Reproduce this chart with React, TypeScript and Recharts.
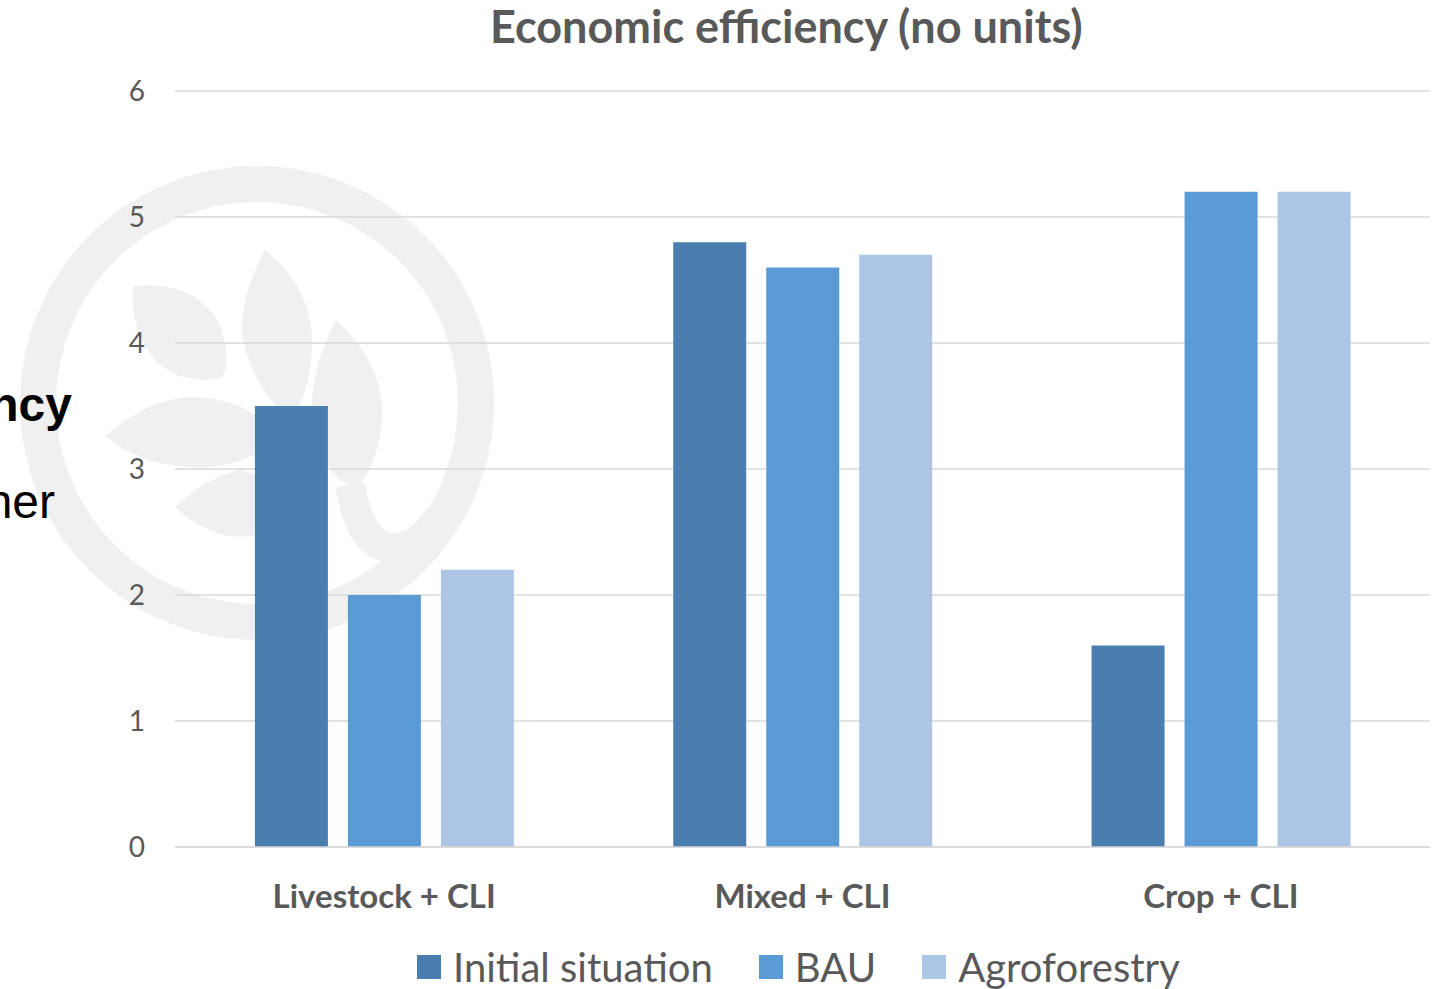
import React from 'react';
import { BarChart, Bar, XAxis, YAxis, CartesianGrid, Legend } from 'recharts';

const categories = ['Livestock + CLI', 'Mixed + CLI', 'Crop + CLI'];
const initialSituation = [3.5, 4.8, 1.6];
const bau = [2.0, 4.6, 5.2];
const agroforestry = [2.2, 4.7, 5.2];
const yTicks = [0, 1, 2, 3, 4, 5, 6];

const series = [
  { key: 'initial', name: 'Initial situation', color: '#4A7EAE' },
  { key: 'bau', name: 'BAU', color: '#5B9BD5' },
  { key: 'agro', name: 'Agroforestry', color: '#ADC6E5' },
];

const chartData = categories.map((name, i) => ({
  name,
  initial: initialSituation[i],
  bau: bau[i],
  agro: agroforestry[i],
}));

const FONT = 'Lato, "Open Sans", sans-serif';
const TEXT = '#595959';
const WM = '#f0f0f0';

// faint logo watermark behind the chart
function Watermark() {
  return (
    <svg width={520} height={660} style={{ position: 'absolute', left: 0, top: 0 }}>
      <circle cx={257} cy={403} r={219} fill="none" stroke={WM} strokeWidth={36} />
      <path d="M133,286 Q200,280 222,330 Q232,370 220,378 Q180,385 155,360 Q130,330 133,286 Z" fill={WM} />
      <path d="M265,250 Q315,290 312,350 Q308,400 290,420 Q255,390 243,340 Q238,300 265,250 Z" fill={WM} />
      <path d="M336,320 Q385,365 382,420 Q378,465 355,490 L340,480 Q310,450 312,400 Q315,360 336,320 Z" fill={WM} />
      <path d="M350,485 Q360,548 395,548 Q420,548 440,515" fill="none" stroke={WM} strokeWidth={30} />
      <path d="M105,436 Q150,397 195,397 Q235,400 255,415 L255,455 Q220,470 190,467 Q140,465 105,436 Z" fill={WM} />
      <path d="M175,507 Q205,478 240,470 L258,475 L258,535 Q230,540 210,530 Q190,522 175,507 Z" fill={WM} />
    </svg>
  );
}

function LegendContent() {
  return (
    <div style={{ display: 'flex', alignItems: 'center', height: 50, paddingTop: 6, boxSizing: 'border-box', fontFamily: FONT, paddingLeft: 417 }}>
      {series.map((s) => (
        <div key={s.key} style={{ display: 'flex', alignItems: 'center', marginRight: 46, height: 44 }}>
          <div style={{ width: 24, height: 24, background: s.color, marginRight: 12 }} />
          <span style={{ fontSize: 40, lineHeight: '44px', color: TEXT }}>{s.name}</span>
        </div>
      ))}
    </div>
  );
}

export default function App() {
  return (
    <div style={{ position: 'absolute', left: 0, top: 0, width: 1440, height: 989, background: '#fff', overflow: 'hidden' }}>
      <Watermark />
      <div style={{ position: 'absolute', right: 1440 - 72, top: 377, fontFamily: '"Liberation Sans", Arial, sans-serif', fontWeight: 700, fontSize: 48, whiteSpace: 'nowrap', color: '#000' }}>
        ncy
      </div>
      <div style={{ position: 'absolute', right: 1440 - 55, top: 474, fontFamily: '"Liberation Sans", Arial, sans-serif', fontSize: 48, whiteSpace: 'nowrap', color: '#000' }}>
        her
      </div>
      <div style={{ position: 'absolute', left: 490, top: 0, lineHeight: '52px', fontFamily: FONT, fontWeight: 700, fontSize: 45, color: TEXT, whiteSpace: 'nowrap' }}>
        Economic efficiency (no units)
      </div>
      <div style={{ position: 'absolute', left: 0, top: 0 }}>
        <BarChart
          width={1440}
          height={989}
          data={chartData}
          margin={{ top: 91, right: 10, left: 0, bottom: 0 }}
          barCategoryGap="19.1%"
          barGap={20}
        >
          <CartesianGrid vertical={false} stroke="#d9d9d9" strokeWidth={1.5} />
          <XAxis
            dataKey="name"
            height={92}
            axisLine={{ stroke: '#d9d9d9', strokeWidth: 1.5 }}
            tickLine={false}
            tickSize={0}
            tickMargin={38}
            tick={{ fill: TEXT, fontSize: 33, fontWeight: 700, fontFamily: FONT }}
          />
          <YAxis
            domain={[0, 6]}
            ticks={yTicks}
            width={175}
            axisLine={false}
            tickLine={false}
            tickSize={0}
            tickMargin={30}
            tick={{ fill: TEXT, fontSize: 28, fontFamily: FONT }}
          />
          <Legend verticalAlign="bottom" height={50} content={() => <LegendContent />} />
          {series.map((s) => (
            <Bar key={s.key} dataKey={s.key} name={s.name} fill={s.color} isAnimationActive={false} />
          ))}
        </BarChart>
      </div>
    </div>
  );
}
